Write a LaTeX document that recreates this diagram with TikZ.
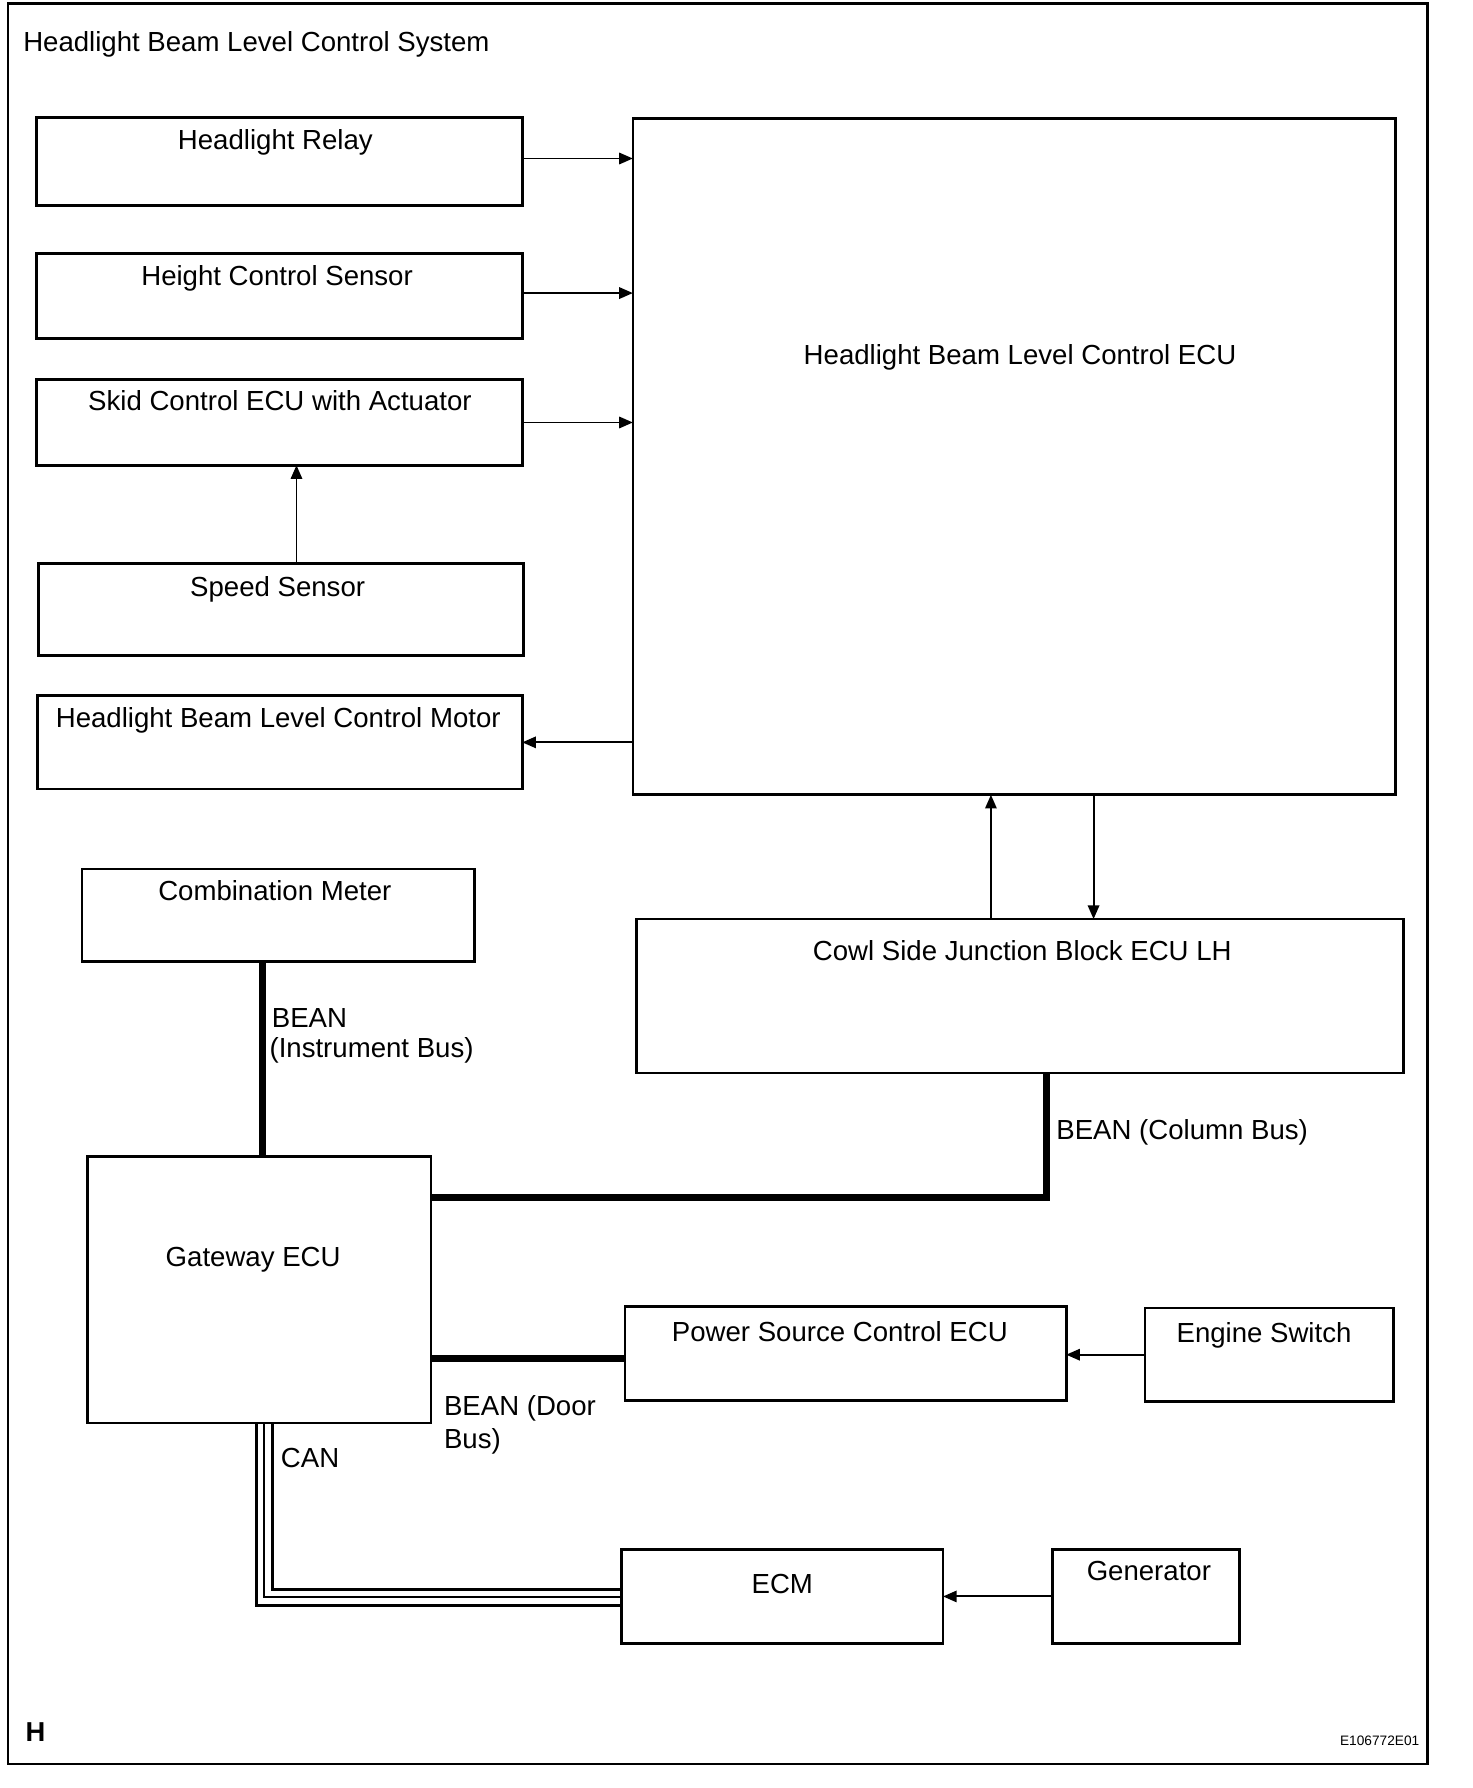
\documentclass[tikz,border=0pt]{standalone}
\usepackage{fontspec}
\setmainfont{Liberation Sans}
\usetikzlibrary{fit,arrows.meta}
\begin{document}
\begin{tikzpicture}[x=0.5pt,y=-0.5pt,
  box/.style={draw, line width=1.2pt, inner sep=0pt, outer sep=0pt},
  lbl/.style={anchor=base, inner sep=0pt, font=\fontsize{12.1}{13}\selectfont},
  lbll/.style={lbl, anchor=base west},
  arr/.style={line width=0.85pt, -{Triangle[length=6pt,width=5pt]}},
  bean/.style={line width=3pt},
  canouter/.style={line width=1.3pt},
  canmid/.style={line width=0.8pt}]
\useasboundingbox (0,0) rectangle (1291,1568);
\node[box, fit={(7,3)(1252,1547)}] (frame) {};
\node[lbll] (title) at (20,45) {Headlight Beam Level Control System};

% boxes
\node[box, fit={(32,103)(458,180)}] (relay) {};
\node[lbl] (relayT) at (241.5,131) {Headlight Relay};
\node[box, fit={(32,222)(458,297)}] (height) {};
\node[lbl] (heightT) at (243,250) {Height Control Sensor};
\node[box, fit={(32,333)(458,408)}] (skid) {};
\node[lbl] (skidT) at (245.5,360) {Skid Control ECU with Actuator};
\node[box, fit={(34,494)(459,575)}] (speed) {};
\node[lbl] (speedT) at (243.5,523) {Speed Sensor};
\node[box, fit={(33,610)(458,692)}] (motor) {};
\node[lbl] (motorT) at (244,638) {Headlight Beam Level Control Motor};
\node[box, fit={(555,104)(1224,697)}] (ecu) {};
\node[lbl] (ecuT) at (894.5,320) {Headlight Beam Level Control ECU};
\node[box, fit={(72,762)(416,843)}] (meter) {};
\node[lbl] (meterT) at (241,790) {Combination Meter};
\node[box, fit={(558,806)(1231,941)}] (cowl) {};
\node[lbl] (cowlT) at (896.5,842) {Cowl Side Junction Block ECU LH};
\node[box, fit={(77,1014)(378,1248)}] (gw) {};
\node[lbl] (gwT) at (222,1111) {Gateway ECU};
\node[box, fit={(548,1146)(935,1228)}] (psc) {};
\node[lbl] (pscT) at (736.5,1176) {Power Source Control ECU};
\node[box, fit={(1004,1147)(1222,1229)}] (es) {};
\node[lbl] (esT) at (1108.5,1177) {Engine Switch};
\node[box, fit={(545,1359)(827,1441)}] (ecm) {};
\node[lbl] (ecmT) at (686,1397) {ECM};
\node[box, fit={(923,1359)(1087,1441)}] (gen) {};
\node[lbl] (genT) at (1007.5,1386) {Generator};

% arrows into ECU
\draw[arr] ([yshift=1.25pt]relay.east) -- ([yshift=1.25pt]relay.east -| ecu.west);
\draw[arr] ([yshift=1.25pt]height.east) -- ([yshift=1.25pt]height.east -| ecu.west);
\draw[arr] (skid.east) -- (skid.east -| ecu.west);
\draw[arr] ([xshift=6.75pt]speed.north) -- ([xshift=6.75pt]speed.north |- skid.south);
\draw[arr] (motor.east -| ecu.west) -- (motor.east);
\draw[arr] ([xshift=-12.75pt]cowl.north) -- ([xshift=-12.75pt]cowl.north |- ecu.south);
\draw[arr] ([xshift=32.25pt]cowl.north |- ecu.south) -- ([xshift=32.25pt]cowl.north);
\draw[arr] (es.west) -- (es.west -| psc.east);
\draw[arr] (gen.west) -- (gen.west -| ecm.east);

% BEAN buses
\draw[bean] ([xshift=-7pt]meter.south) -- ([xshift=-7pt]meter.south |- gw.north);
\draw[bean] ([xshift=11.75pt]cowl.south) |- ([yshift=40.5pt]gw.east);
\draw[bean] ([yshift=-30pt]gw.east) -- ([yshift=-30pt]gw.east -| psc.west);

% CAN
\draw[canouter] ([xshift=-1.25pt]gw.south) |- ([yshift=-4pt]ecm.west);
\draw[canmid] ([xshift=2.05pt]gw.south) |- ([yshift=-0.3pt]ecm.west);
\draw[canouter] ([xshift=5.55pt]gw.south) |- ([yshift=3pt]ecm.west);

% bus labels
\node[lbll] (b1a) at (238,901) {BEAN};
\node[lbll] (b1b) at (236,927) {(Instrument Bus)};
\node[lbll] (b2) at (926,999) {BEAN (Column Bus)};
\node[lbll] (b3a) at (389,1241) {BEAN (Door};
\node[lbll] (b3b) at (389,1270) {Bus)};
\node[lbll] (can) at (246,1287) {CAN};

\node[lbll, font=\fontsize{12}{13}\selectfont\bfseries] (hh) at (22,1527) {H};
\node[lbl, anchor=base east, font=\fontsize{6}{7}\selectfont] (code) at (1245,1531) {E106772E01};
\end{tikzpicture}
\end{document}
